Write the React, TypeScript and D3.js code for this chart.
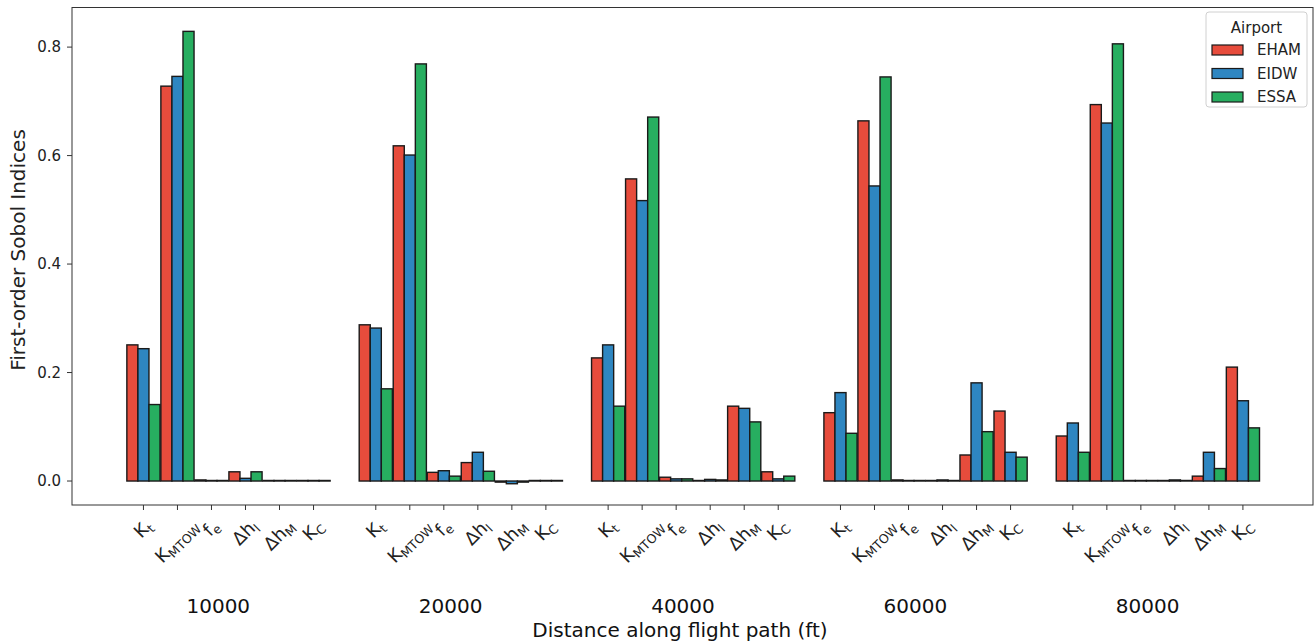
import { useEffect, useRef } from "react";
import * as d3 from "d3";

const distances = ["10000", "20000", "40000", "60000", "80000"];
const paramMain = ["K", "K", "f", "Δh", "Δh", "K"];
const paramSub = ["t", "MTOW", "e", "l", "M", "C"];
const airports = ["EHAM", "EIDW", "ESSA"];
const airportColors = ["#e74c3c", "#2e86c1", "#27ae60"];

// rows = distance, cols = Kt, KMTOW, fe, Δhl, ΔhM, KC
const ehamValues = [
  [0.251, 0.728, 0.002, 0.017, 0.001, 0.001],
  [0.288, 0.618, 0.016, 0.034, -0.002, 0.001],
  [0.227, 0.557, 0.007, 0.001, 0.138, 0.017],
  [0.126, 0.664, 0.002, 0.001, 0.048, 0.129],
  [0.083, 0.694, 0.001, 0.001, 0.009, 0.21],
];
const eidwValues = [
  [0.244, 0.746, 0.001, 0.005, 0.001, 0.001],
  [0.282, 0.601, 0.019, 0.053, -0.005, 0.001],
  [0.251, 0.517, 0.004, 0.003, 0.134, 0.004],
  [0.163, 0.544, 0.001, 0.002, 0.181, 0.053],
  [0.107, 0.66, 0.001, 0.002, 0.053, 0.148],
];
const essaValues = [
  [0.141, 0.829, 0.001, 0.017, 0.001, 0.001],
  [0.17, 0.769, 0.009, 0.018, -0.002, 0.001],
  [0.138, 0.671, 0.004, 0.002, 0.109, 0.009],
  [0.088, 0.745, 0.001, 0.001, 0.091, 0.044],
  [0.053, 0.806, 0.001, 0.001, 0.023, 0.098],
];
const yTicks = [0, 0.2, 0.4, 0.6, 0.8];

export default function App() {
  const ref = useRef<SVGSVGElement>(null);

  useEffect(() => {
    if (!ref.current) return;
    const svg = d3.select(ref.current);
    svg.selectAll("*").remove();

    const font = "'DejaVu Sans', sans-serif";
    const left = 72, right = 1313, top = 7.5, bottom = 505;
    const groupStep = 6.83;
    const bw = 0.325;

    const x = d3.scaleLinear().domain([-2.1, 34.38]).range([left, right]);
    const y = d3.scaleLinear().domain([-0.0442, 0.873]).range([bottom, top]);

    const allValues = [ehamValues, eidwValues, essaValues];
    const bars = allValues.flatMap((vals, a) =>
      vals.flatMap((row, g) =>
        row.map((v, p) => ({ a, g, p, v, slot: g * groupStep + p }))
      )
    );

    const g = svg.append("g");

    g.selectAll("rect.bar")
      .data(bars)
      .join("rect")
      .attr("class", "bar")
      .attr("x", (d) => x(d.slot + (d.a - 1.5) * bw))
      .attr("width", x(bw) - x(0))
      .attr("y", (d) => Math.min(y(d.v), y(0)))
      .attr("height", (d) => Math.abs(y(d.v) - y(0)))
      .attr("fill", (d) => airportColors[d.a])
      .attr("stroke", "#1a1a1a")
      .attr("stroke-width", 1.4);

    // frame
    g.append("rect")
      .attr("x", left)
      .attr("y", top)
      .attr("width", right - left)
      .attr("height", bottom - top)
      .attr("fill", "none")
      .attr("stroke", "#333")
      .attr("stroke-width", 1);

    // y axis
    yTicks.forEach((t) => {
      g.append("line")
        .attr("x1", left - 5)
        .attr("x2", left)
        .attr("y1", y(t))
        .attr("y2", y(t))
        .attr("stroke", "#333");
      g.append("text")
        .attr("x", left - 11)
        .attr("y", y(t))
        .attr("dy", "0.36em")
        .attr("text-anchor", "end")
        .style("font-family", font)
        .style("font-size", "15px")
        .attr("fill", "#222")
        .text(t.toFixed(1));
    });

    g.append("text")
      .attr("transform", `translate(25,250) rotate(-90)`)
      .attr("text-anchor", "middle")
      .style("font-family", font)
      .style("font-size", "20px")
      .attr("fill", "#222")
      .text("First-order Sobol Indices");

    // x ticks with rotated labels
    distances.forEach((dist, gi) => {
      paramMain.forEach((main, p) => {
        const cx = x(gi * groupStep + p);
        g.append("line")
          .attr("x1", cx)
          .attr("x2", cx)
          .attr("y1", bottom)
          .attr("y2", bottom + 5)
          .attr("stroke", "#333");
        const lg = g.append("g").attr("transform", `translate(${cx},0)`);
        const txt = lg
          .append("text")
          .attr("text-anchor", "middle")
          .style("font-family", font)
          .style("font-size", "18px")
          .attr("fill", "#222");
        txt.append("tspan").text(main);
        txt
          .append("tspan")
          .attr("dy", "0.3em")
          .style("font-size", "12.5px")
          .text(paramSub[p]);
        const tb = (txt.node() as SVGTextElement).getBBox();
        txt.attr(
          "transform",
          `rotate(-45) translate(0,${-(tb.y + tb.height / 2)})`
        );
        const bb = (lg.node() as SVGGElement).getBBox();
        lg.attr("transform", `translate(${cx},${515 - bb.y})`);
      });

      g.append("text")
        .attr("x", x(gi * groupStep + 2.2))
        .attr("y", 613)
        .attr("text-anchor", "middle")
        .style("font-family", font)
        .style("font-size", "20px")
        .attr("fill", "#111")
        .text(dist);
    });

    g.append("text")
      .attr("x", 680)
      .attr("y", 637)
      .attr("text-anchor", "middle")
      .style("font-family", font)
      .style("font-size", "20px")
      .attr("fill", "#111")
      .text("Distance along flight path (ft)");

    // legend
    const leg = g.append("g").attr("transform", "translate(1206,12)");
    leg
      .append("rect")
      .attr("width", 101)
      .attr("height", 95)
      .attr("rx", 3)
      .attr("fill", "white")
      .attr("fill-opacity", 0.85)
      .attr("stroke", "#d0d0d0");
    leg
      .append("text")
      .attr("x", 50.5)
      .attr("y", 21)
      .attr("text-anchor", "middle")
      .style("font-family", font)
      .style("font-size", "15px")
      .attr("fill", "#222")
      .text("Airport");
    airports.forEach((name, i) => {
      const cy = 38 + i * 23.5;
      leg
        .append("rect")
        .attr("x", 6)
        .attr("y", cy - 5)
        .attr("width", 31)
        .attr("height", 10)
        .attr("fill", airportColors[i])
        .attr("stroke", "#1a1a1a")
        .attr("stroke-width", 1.2);
      leg
        .append("text")
        .attr("x", 51)
        .attr("y", cy)
        .attr("dy", "0.36em")
        .style("font-family", font)
        .style("font-size", "15px")
        .attr("fill", "#222")
        .text(name);
    });
  }, []);

  return (
    <svg
      ref={ref}
      width={1315}
      height={644}
      style={{ position: "absolute", left: 0, top: 0, background: "white" }}
    />
  );
}
